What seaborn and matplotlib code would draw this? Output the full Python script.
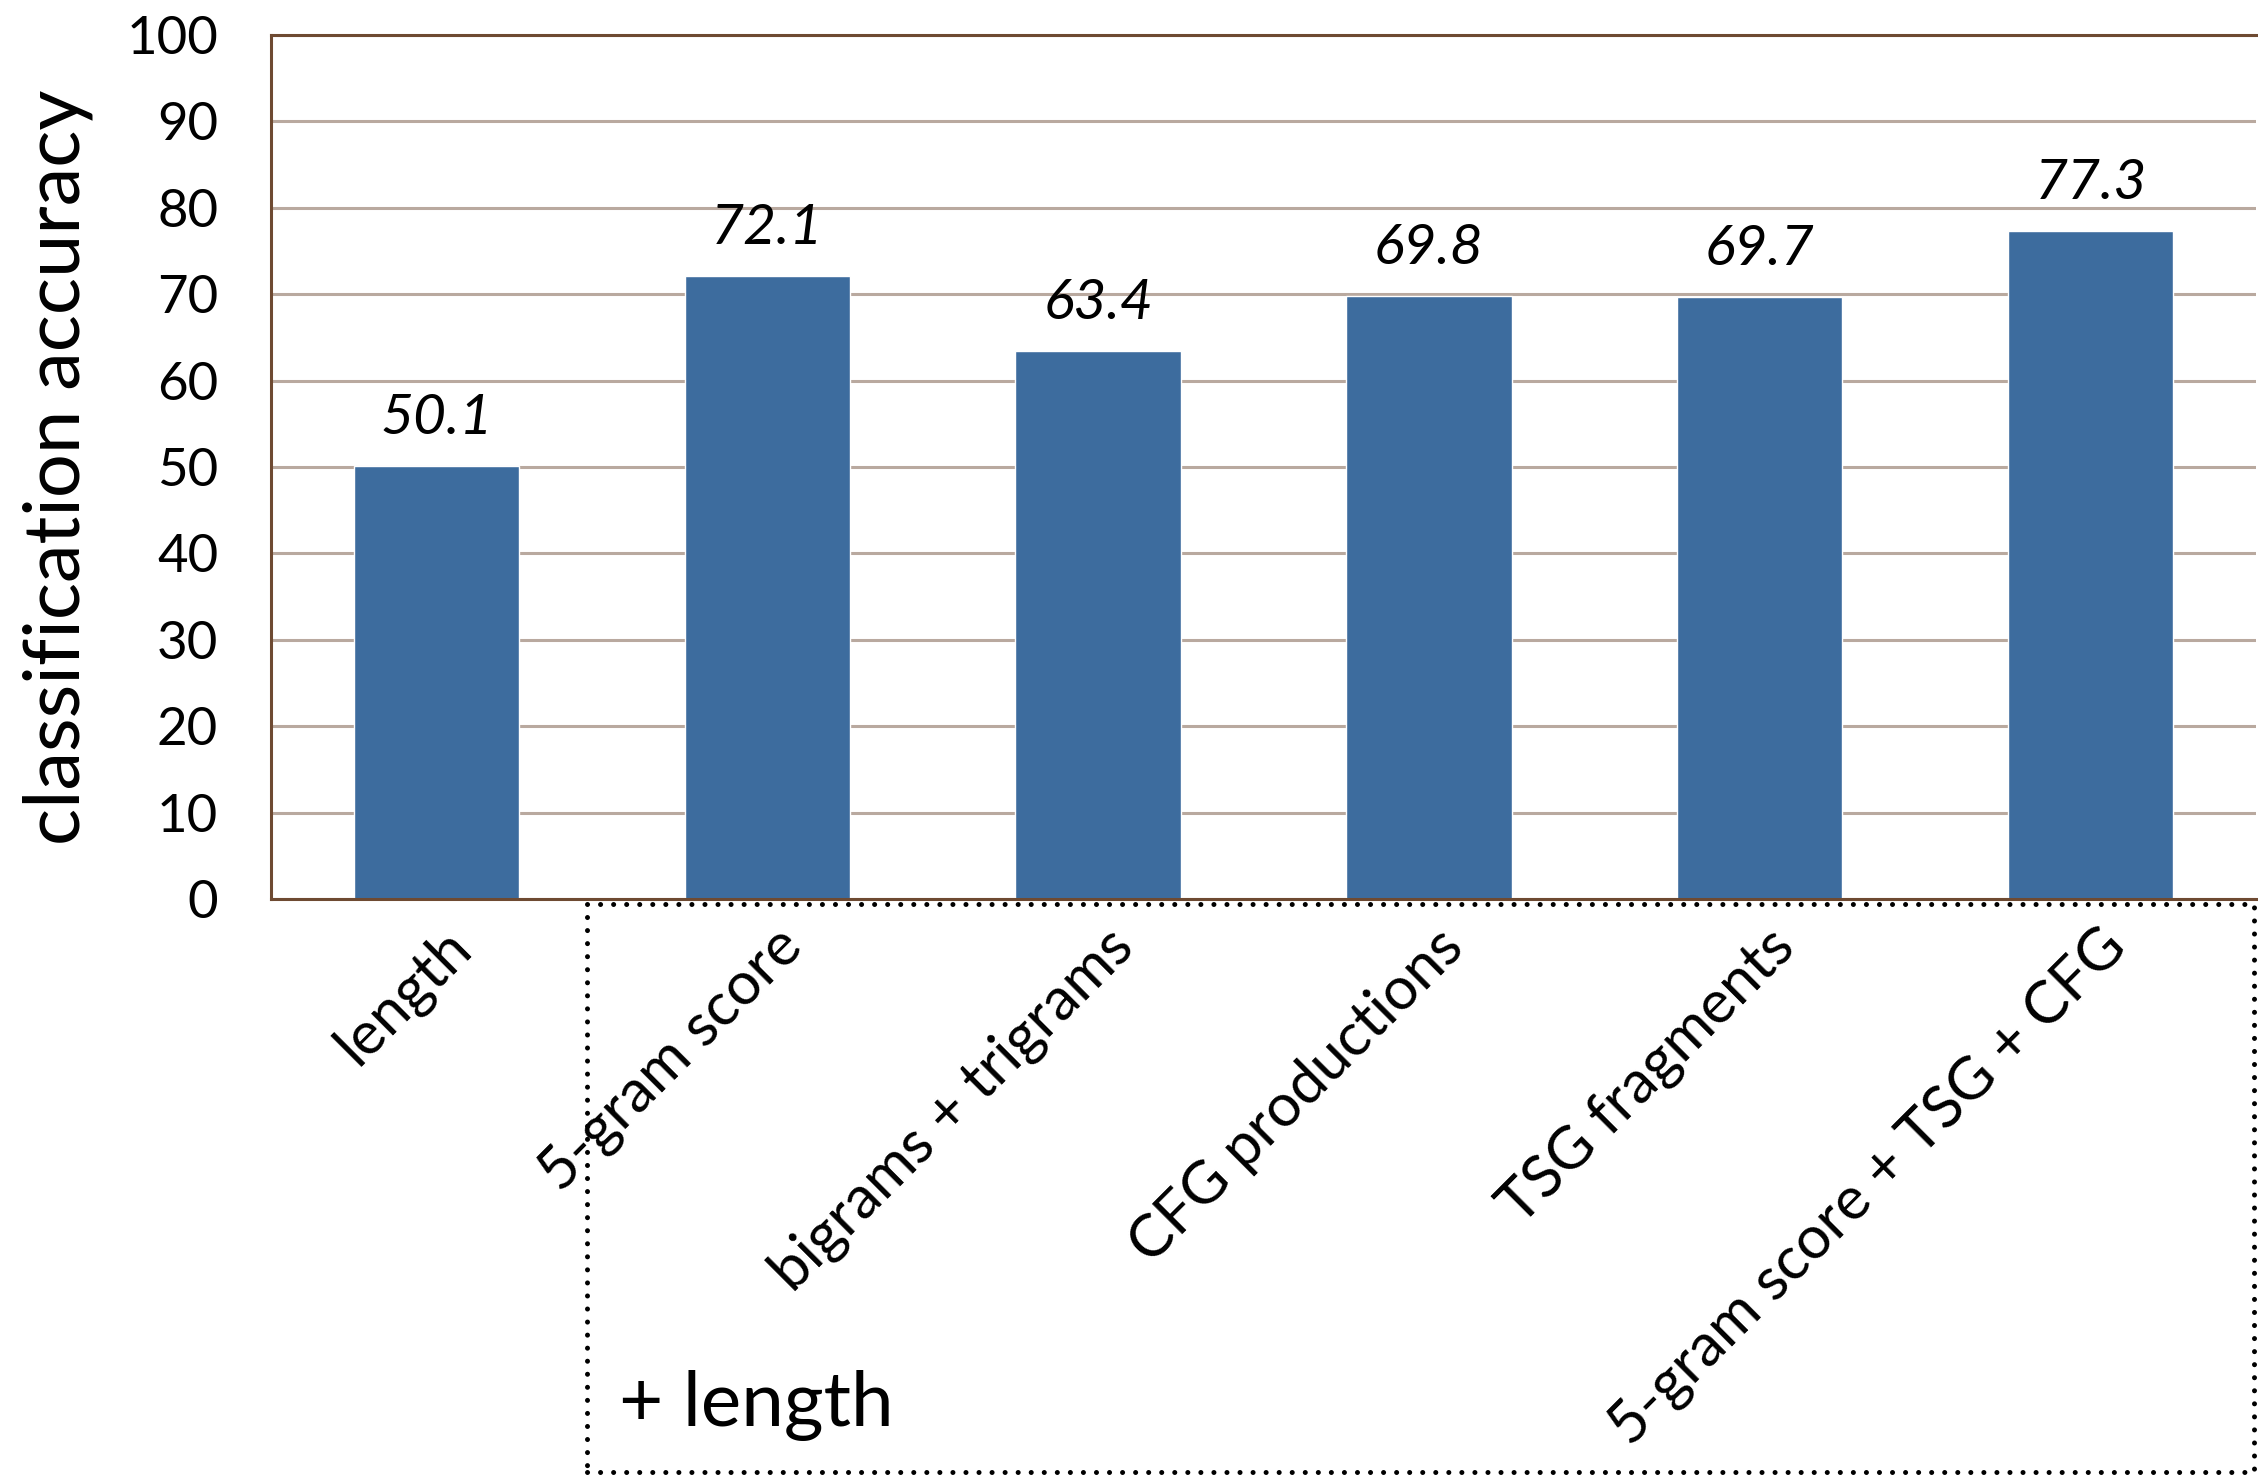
import matplotlib
matplotlib.use("Agg")
import matplotlib.pyplot as plt
import matplotlib.transforms as mtransforms
from matplotlib.patches import Rectangle
import pandas as pd
import seaborn as sns

# chart data
features = ["length", "5-gram score", "bigrams + trigrams", "CFG productions",
            "TSG fragments", "5-gram score + TSG + CFG"]
accuracy = [50.1, 72.1, 63.4, 69.8, 69.7, 77.3]
y_ticks = [0, 10, 20, 30, 40, 50, 60, 70, 80, 90, 100]

df = pd.DataFrame({"feature": features, "accuracy": accuracy})

sns.set_style("white")
plt.rcParams['font.family'] = ['Lato', 'DejaVu Sans']
plt.rcParams['text.color'] = 'black'

bar_color = "#3d6c9e"
spine_color = "#6e4a32"
grid_color = "#b9a99f"

fig = plt.figure(figsize=(22.58, 14.76), dpi=100)
ax = fig.add_axes([271 / 2258, 1 - 899 / 1476, (2256 - 271) / 2258, (899 - 35) / 1476])

sns.barplot(data=df, x="feature", y="accuracy", color=bar_color, width=0.5,
            saturation=1, ax=ax, zorder=2)

ax.set_xlim(-0.5, 5.5)
ax.set_ylim(0, 100)
ax.set_yticks(y_ticks)
ax.yaxis.grid(True, color=grid_color, linewidth=2.2, zorder=0)
ax.set_axisbelow(True)

for side in ["left", "bottom", "top"]:
    ax.spines[side].set_color(spine_color)
    ax.spines[side].set_linewidth(2.2)
ax.spines["right"].set_visible(False)

ax.tick_params(axis="y", length=0, pad=38, labelsize=38, labelcolor="black")
ax.tick_params(axis="x", length=0, pad=28, labelsize=43, labelcolor="black")
ax.set_xlabel("")
ax.set_ylabel("classification accuracy", fontsize=56, labelpad=24, color="black")

# rotated category labels
shift = mtransforms.ScaledTranslation(26 / 100, 0, fig.dpi_scale_trans)
for lab in ax.get_xticklabels():
    lab.set_rotation(45)
    lab.set_ha("right")
    lab.set_va("center")
    lab.set_rotation_mode("anchor")
    lab.set_transform(lab.get_transform() + shift)

# value labels
ax.bar_label(ax.containers[0], labels=[f"{v:.1f}" for v in accuracy],
             padding=16, fontsize=41, fontstyle="italic", color="black")

# dotted box around the "+ length" group
box = Rectangle((587 / 2258, 1 - 1472 / 1476), (2254 - 587) / 2258, (1472 - 904) / 1476,
                transform=fig.transFigure, fill=False, edgecolor="black",
                linewidth=3.6, linestyle=(0, (0.01, 2.6)), capstyle="round",
                clip_on=False)
box.set_joinstyle("round")
fig.patches.append(box)
fig.text(619 / 2258, 1 - 1426 / 1476, "+ length", fontsize=55, ha="left",
         va="baseline", color="black")

fig.savefig("out.png", dpi=100)
